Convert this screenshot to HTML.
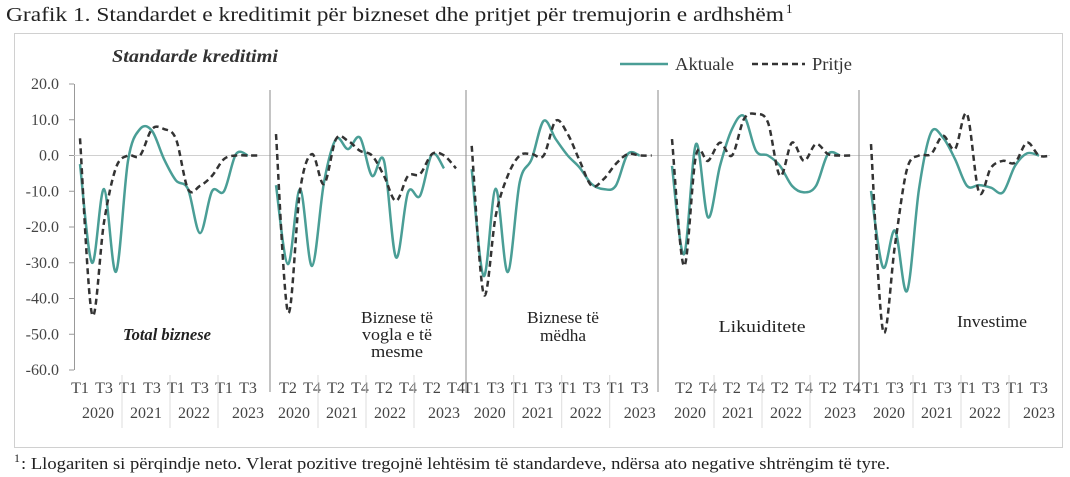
<!DOCTYPE html>
<html><head><meta charset="utf-8"><style>
body{margin:0;background:#fff;width:1070px;height:477px;overflow:hidden;font-family:"Liberation Serif",serif;}
svg{position:absolute;left:0;top:0}
</style></head><body>
<svg id="s" width="1070" height="477" xmlns="http://www.w3.org/2000/svg" font-family="Liberation Serif, serif">
<text x="6" y="21" font-size="20" fill="#222" textLength="778" lengthAdjust="spacingAndGlyphs">Grafik 1. Standardet e kreditimit për bizneset dhe pritjet për tremujorin e ardhshëm</text>
<text x="786" y="13" font-size="13" fill="#222">1</text>
<rect x="14.5" y="33.5" width="1048" height="414" fill="none" stroke="#d0d0d0"/>
<text x="112" y="62" font-size="18" font-weight="bold" font-style="italic" fill="#333" textLength="166" lengthAdjust="spacingAndGlyphs">Standarde kreditimi</text>
<line x1="620" y1="64" x2="668" y2="64" stroke="#4a9e96" stroke-width="2.5"/>
<text x="675" y="70" font-size="18" fill="#333" textLength="59" lengthAdjust="spacingAndGlyphs">Aktuale</text>
<line x1="752" y1="64" x2="805" y2="64" stroke="#333" stroke-width="2.5" stroke-dasharray="6,4"/>
<text x="812" y="70" font-size="18" fill="#333" textLength="40" lengthAdjust="spacingAndGlyphs">Pritje</text>
<text x="14" y="462" font-size="12" fill="#222">1</text>
<text x="21" y="469" font-size="17" fill="#222" textLength="869" lengthAdjust="spacingAndGlyphs">: Llogariten si përqindje neto. Vlerat pozitive tregojnë lehtësim të standardeve, ndërsa ato negative shtrëngim të tyre.</text>
<g id="g"></g>
</svg>
<script>
var NS="http://www.w3.org/2000/svg",g=document.getElementById('g');
function el(t,a,txt){var e=document.createElementNS(NS,t);for(var k in a)e.setAttribute(k,a[k]);if(txt)e.textContent=txt;g.appendChild(e);return e;}
function Y(v){return 155.5-v*3.575;}
el('line',{x1:74.5,y1:84,x2:74.5,y2:370,stroke:'#999'});
for(var v=20;v>=-60;v-=10){var y=Y(v);el('line',{x1:69,y1:y,x2:74,y2:y,stroke:'#999'});
el('text',{x:59,y:y+5,'font-size':16,'text-anchor':'end',fill:'#444'},v.toFixed(1));}
el('line',{x1:74,y1:Y(0),x2:1050,y2:Y(0),stroke:'#d0d0d0'});
var starts=[80,276,471.7,672,871],step=12;
[270,466,658,859].forEach(function(x){el('line',{x1:x,y1:90,x2:x,y2:392,stroke:'#888'});});
var yrs=['2020','2021','2022','2023'];
starts.forEach(function(s,p){
 var odd=(p==1||p==3);
 for(var i=0;i<16;i++){
  if((i%2==1)==odd){el('text',{x:s+i*step,y:393,'font-size':16,'text-anchor':'middle',fill:'#444'},odd?(i%4==1?'T2':'T4'):(i%4==0?'T1':'T3'));}
 }
 for(var k=0;k<4;k++){el('text',{x:s+(k*4+1.5)*step+(k==3?6:0),y:418,'font-size':16,'text-anchor':'middle',fill:'#444'},yrs[k]);
  if(k>0){var gx=s+(k*4-0.5)*step;el('line',{x1:gx,y1:375,x2:gx,y2:428,stroke:'#ddd'});}}
});
var A=[
[-2.4,-30,-9.4,-32.5,-1.5,7.4,6.9,-1,-7,-9.4,-21.7,-10,-10,0.4,0],
[-8.3,-30.4,-9.4,-30.9,-7.5,4.6,1.8,5,-5.7,-1.5,-28.5,-10.3,-11.3,0.4,-3.6],
[-3.8,-33.7,-9.3,-32.6,-7.5,-1,9.7,4.6,0,-3.4,-8,-9.4,-8.5,0.4,0],
[-2.9,-27.6,3.2,-17.3,-2.9,7.4,11,1.3,0,-2.9,-8.5,-10.3,-8.5,0.4,0],
[-9.9,-31.3,-21,-37.9,-9.4,6.4,5,-1,-8.5,-8.3,-9,-10.3,-2.9,0.6,0]];
var P=[
[4.8,-44.4,-18.7,-3.4,0,0,7.4,7.4,4.6,-9.4,-8.5,-5.7,-1,0,0,0],
[6,-43.9,-9.9,0.4,-8,4.6,4.1,1.3,0,-5.7,-12.7,-5.7,-5.2,0.4,0,-3.6],
[2.7,-38.8,-16.9,-5.7,0,0.4,0,9.7,6,-1.5,-8.5,-6.6,-2.4,0.4,0,0],
[4.6,-30.9,0,-1.5,3.6,0,10.2,11.6,9.2,-5.7,3.6,-1.5,3.2,0.4,0,0],
[3.2,-49,-25,-3.8,0,0.4,5.5,1.8,11.6,-10.3,-3.4,-1.5,-2,3.6,0,0]];
function path(s,d){var pts=d.map(function(v,i){return [s+i*step,Y(v)];});
 var str='M'+pts[0][0]+','+pts[0][1];
 for(var i=0;i<pts.length-1;i++){var p0=pts[i-1]||pts[i],p1=pts[i],p2=pts[i+1],p3=pts[i+2]||p2;
  var c1=[p1[0]+(p2[0]-p0[0])/6,p1[1]+(p2[1]-p0[1])/6],c2=[p2[0]-(p3[0]-p1[0])/6,p2[1]-(p3[1]-p1[1])/6];
  str+='C'+c1+' '+c2+' '+p2;}
 return str;}
starts.forEach(function(s,p){
 el('path',{d:path(s,A[p]),fill:'none',stroke:'#4a9e96','stroke-width':2.5});
 el('path',{d:path(s,P[p]),fill:'none',stroke:'#333','stroke-width':2.5,'stroke-dasharray':'6,4'});
});
el('text',{x:167,y:340,'font-size':17,'font-weight':'bold','font-style':'italic','text-anchor':'middle',fill:'#222',textLength:88,lengthAdjust:'spacingAndGlyphs'},'Total biznese');
[['Biznese të',397,323,72],['vogla e të',397,340,70],['mesme',397,357,52],['Biznese të',563,323,72],['mëdha',563,341,46],['Likuiditete',762,332,87],['Investime',992,327,70]].forEach(function(t){
 el('text',{x:t[1],y:t[2],'font-size':17,'text-anchor':'middle',fill:'#222',textLength:t[3],lengthAdjust:'spacingAndGlyphs'},t[0]);});
</script>
</body></html>
